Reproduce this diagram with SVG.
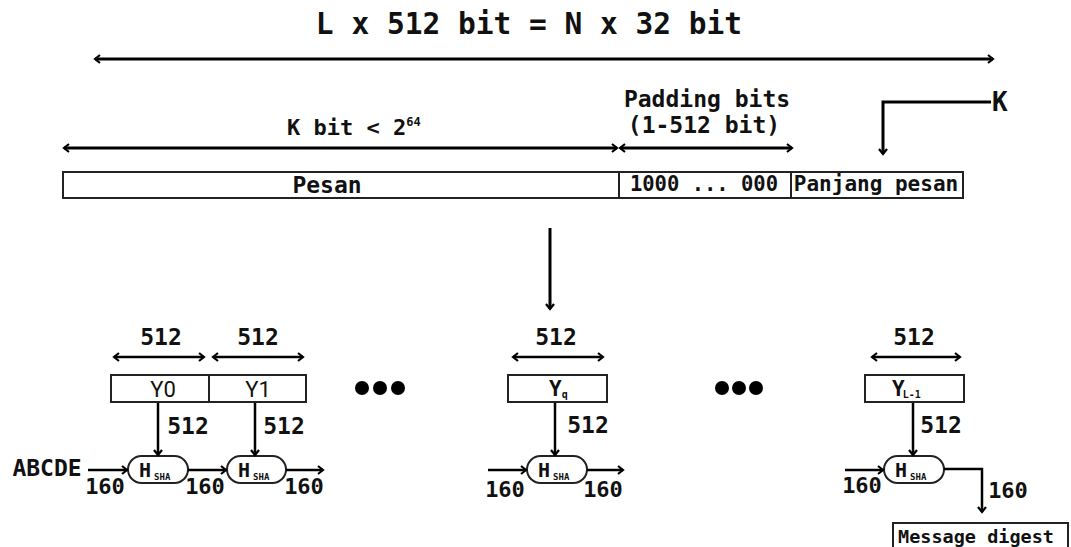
<svg xmlns="http://www.w3.org/2000/svg" width="1071" height="547" viewBox="0 0 1071 547">
<style>
.t{font-family:"DejaVu Sans Mono","Liberation Mono",monospace;font-weight:bold;fill:#111}
.r{font-family:Roboto,"Liberation Sans",sans-serif;fill:#111}
.box{fill:#fff;stroke:#222;stroke-width:2}
.c{fill:none;stroke:#000;stroke-width:2.5}
.ct{fill:none;stroke:#000;stroke-width:3}
.h{font-size:20px}
.s{font-size:9px}
</style>
<defs>
<marker id="ah" viewBox="-7 -6 9 12" refX="0" refY="0" markerWidth="9" markerHeight="12" orient="auto-start-reverse" markerUnits="userSpaceOnUse">
<path d="M-5,-4 L0,0 L-5,4" fill="none" stroke="#000" stroke-width="2.2"/>
</marker>
</defs>
<rect width="1071" height="547" fill="#fff"/>

<g id="labels">
<text class="t" x="529" y="34" font-size="29.5" text-anchor="middle">L x 512 bit = N x 32 bit</text>
<text class="t" x="707" y="107" font-size="23" text-anchor="middle">Padding bits</text>
<text class="t" x="704" y="133" font-size="23" text-anchor="middle">(1-512 bit)</text>
<text class="t" x="287" y="135" font-size="22">K bit &lt; 2<tspan font-size="12" dy="-9">64</tspan></text>
<text class="t" x="992" y="111" font-size="26">K</text>
</g>

<g id="message-bar">
<rect class="box" x="63" y="172" width="556" height="26"/>
<rect class="box" x="619" y="172" width="172" height="26"/>
<rect class="box" x="791" y="172" width="172" height="26"/>
<text class="t" x="327" y="193" font-size="23" text-anchor="middle">Pesan</text>
<text class="t" x="704" y="191" font-size="20.5" text-anchor="middle">1000 ... 000</text>
<text class="t" x="876" y="191" font-size="21" text-anchor="middle">Panjang pesan</text>
</g>

<g id="blocks-labels">
<text class="t" x="161" y="345" font-size="23" text-anchor="middle">512</text>
<text class="t" x="258" y="345" font-size="23" text-anchor="middle">512</text>
<text class="t" x="556" y="345" font-size="23" text-anchor="middle">512</text>
<text class="t" x="914" y="345" font-size="23" text-anchor="middle">512</text>
<text class="t" x="188" y="434" font-size="23" text-anchor="middle">512</text>
<text class="t" x="284" y="434" font-size="23" text-anchor="middle">512</text>
<text class="t" x="588" y="433" font-size="23" text-anchor="middle">512</text>
<text class="t" x="941" y="433" font-size="23" text-anchor="middle">512</text>
<text class="t" x="47" y="476" font-size="23" text-anchor="middle">ABCDE</text>
<text class="t" x="105" y="494" font-size="22" text-anchor="middle">160</text>
<text class="t" x="205" y="494" font-size="22" text-anchor="middle">160</text>
<text class="t" x="304" y="494" font-size="22" text-anchor="middle">160</text>
<text class="t" x="505" y="497" font-size="22" text-anchor="middle">160</text>
<text class="t" x="603" y="497" font-size="22" text-anchor="middle">160</text>
<text class="t" x="862" y="493" font-size="22" text-anchor="middle">160</text>
<text class="t" x="1008" y="498" font-size="22" text-anchor="middle">160</text>
</g>

<g id="block-y0">
<rect class="box" x="111" y="375" width="98" height="27"/>
<text class="r" x="163" y="397" font-size="22" text-anchor="middle">Y0</text>
</g>
<g id="block-y1">
<rect class="box" x="209" y="375" width="97" height="27"/>
<text class="r" x="258" y="397" font-size="22" text-anchor="middle">Y1</text>
</g>
<g id="block-yq">
<rect class="box" x="508" y="375" width="99" height="27"/>
<text class="t" x="549" y="396" font-size="21">Y<tspan font-size="10" dy="2">q</tspan></text>
</g>
<g id="block-yl1">
<rect class="box" x="865" y="375" width="99" height="27"/>
<text class="t" x="892" y="396" font-size="21">Y<tspan font-size="10" dy="2" dx="-2">L-1</tspan></text>
</g>

<g id="dots">
<circle cx="362" cy="388" r="7" fill="#000"/>
<circle cx="380" cy="388" r="7" fill="#000"/>
<circle cx="398" cy="388" r="7" fill="#000"/>
<circle cx="722" cy="388" r="7" fill="#000"/>
<circle cx="739" cy="388" r="7" fill="#000"/>
<circle cx="756" cy="388" r="7" fill="#000"/>
</g>

<g id="hsha-1">
<rect class="box" x="128" y="456" width="60" height="27" rx="13.5"/>
<text class="t h" x="139" y="477">H<tspan class="s" dx="3" dy="3">SHA</tspan></text>
</g>
<g id="hsha-2">
<rect class="box" x="227" y="456" width="59" height="27" rx="13.5"/>
<text class="t h" x="238" y="477">H<tspan class="s" dx="3" dy="3">SHA</tspan></text>
</g>
<g id="hsha-q">
<rect class="box" x="527" y="456" width="60" height="27" rx="13.5"/>
<text class="t h" x="538" y="477">H<tspan class="s" dx="3" dy="3">SHA</tspan></text>
</g>
<g id="hsha-l1">
<rect class="box" x="884" y="456" width="60" height="27" rx="13.5"/>
<text class="t h" x="895" y="477">H<tspan class="s" dx="3" dy="3">SHA</tspan></text>
</g>

<g id="message-digest">
<rect class="box" x="893" y="523" width="175" height="30"/>
<text class="t" x="976" y="543" font-size="18.5" text-anchor="middle">Message digest</text>
</g>

<g id="connectors">
<line class="ct" x1="95" y1="59" x2="993" y2="59" marker-start="url(#ah)" marker-end="url(#ah)"/>
<line class="ct" x1="64" y1="148" x2="617" y2="148" marker-start="url(#ah)" marker-end="url(#ah)"/>
<line class="ct" x1="620" y1="148" x2="792" y2="148" marker-start="url(#ah)" marker-end="url(#ah)"/>
<polyline class="ct" points="991,102 883,102 883,154" marker-end="url(#ah)"/>
<line class="ct" x1="550" y1="228" x2="550" y2="309" marker-end="url(#ah)"/>
<line class="c" x1="114" y1="357" x2="204" y2="357" marker-start="url(#ah)" marker-end="url(#ah)"/>
<line class="c" x1="213" y1="357" x2="303" y2="357" marker-start="url(#ah)" marker-end="url(#ah)"/>
<line class="c" x1="513" y1="357" x2="603" y2="357" marker-start="url(#ah)" marker-end="url(#ah)"/>
<line class="c" x1="872" y1="357" x2="960" y2="357" marker-start="url(#ah)" marker-end="url(#ah)"/>
<line class="c" x1="158" y1="403" x2="158" y2="455" marker-end="url(#ah)"/>
<line class="c" x1="255" y1="403" x2="255" y2="455" marker-end="url(#ah)"/>
<line class="c" x1="555" y1="403" x2="555" y2="455" marker-end="url(#ah)"/>
<line class="c" x1="913" y1="403" x2="913" y2="455" marker-end="url(#ah)"/>
<line class="c" x1="88" y1="470" x2="127" y2="470" marker-end="url(#ah)"/>
<line class="c" x1="188" y1="470" x2="226" y2="470" marker-end="url(#ah)"/>
<line class="c" x1="286" y1="470" x2="323" y2="470" marker-end="url(#ah)"/>
<line class="c" x1="488" y1="470" x2="526" y2="470" marker-end="url(#ah)"/>
<line class="c" x1="587" y1="470" x2="623" y2="470" marker-end="url(#ah)"/>
<line class="c" x1="845" y1="470" x2="883" y2="470" marker-end="url(#ah)"/>
<polyline class="c" points="944,469 982,469 982,512" marker-end="url(#ah)"/>
</g>
</svg>
